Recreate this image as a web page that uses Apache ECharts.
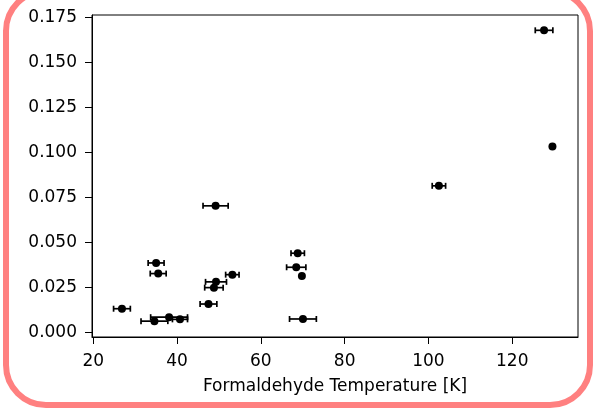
<!DOCTYPE html>
<html>
<head>
<meta charset="utf-8">
<script src="https://cdn.jsdelivr.net/npm/echarts@6/dist/echarts.min.js"></script>
<style>
  html, body { margin: 0; padding: 0; background: #ffffff; }
  #chart { width: 594px; height: 410px; }
</style>
</head>
<body>
<div id="chart"></div>
<script>
// Formaldehyde temperature (K) with its uncertainty, against the measured quantity
const temperature = [26.85, 34.6, 35.0, 35.5, 38.1, 40.7, 47.5, 48.8, 49.3, 49.2, 53.2, 68.45, 68.8, 69.8, 70.05, 102.5, 127.6, 129.6];
const tempError   = [2.0,   3.2,  1.9,  1.9,  4.4,  1.8,  2.0,  2.2,  2.5,  3.0,  1.6,  2.3,   1.6,  0,    3.2,   1.6,   2.1,   0];
const yValue      = [0.0133, 0.0064, 0.0387, 0.0328, 0.0086, 0.0074, 0.0159, 0.0250, 0.0282, 0.0704, 0.0322, 0.0363, 0.0441, 0.0315, 0.0076, 0.0815, 0.1678, 0.1033];

const xTicks = [20, 40, 60, 80, 100, 120];
const yTicks = [0, 0.025, 0.05, 0.075, 0.1, 0.125, 0.15, 0.175];

const points = temperature.map((t, i) => [t, yValue[i]]);
const bars = temperature.map((t, i) => [t, yValue[i], tempError[i]]);

const font = 'DejaVu Sans';
const ink = '#000000';

const chart = echarts.init(document.getElementById('chart'), null, { renderer: 'canvas' });

chart.setOption({
  animation: false,
  backgroundColor: '#ffffff',
  grid: {
    left: 92, right: 16, top: 15, bottom: 73,
    show: true, borderColor: ink, borderWidth: 1, backgroundColor: 'transparent'
  },
  graphic: [{
    type: 'rect',
    silent: true,
    z: 100,
    shape: { x: 6, y: -9, width: 584, height: 414, r: 40 },
    style: { fill: 'none', stroke: '#ff8080', lineWidth: 6 }
  }],
  xAxis: {
    type: 'value',
    min: 19.7, max: 135.7,
    name: 'Formaldehyde Temperature [K]',
    nameLocation: 'middle',
    nameGap: 41,
    nameTextStyle: { fontFamily: font, fontSize: 17, color: ink },
    axisLine: { show: true, onZero: false, lineStyle: { color: ink, width: 1 } },
    axisTick: { show: true, length: 7, customValues: xTicks, lineStyle: { color: ink, width: 1 } },
    axisLabel: {
      customValues: xTicks, margin: 16,
      fontFamily: font, fontSize: 17, color: ink,
      formatter: v => String(v)
    },
    splitLine: { show: false }
  },
  yAxis: {
    type: 'value',
    min: -0.0024, max: 0.1763,
    axisLine: { show: true, onZero: false, lineStyle: { color: ink, width: 1 } },
    axisTick: { show: true, length: 7, customValues: yTicks, lineStyle: { color: ink, width: 1 } },
    axisLabel: {
      customValues: yTicks, margin: 15,
      fontFamily: font, fontSize: 17, color: ink,
      formatter: v => v.toFixed(3)
    },
    splitLine: { show: false }
  },
  series: [
    {
      type: 'custom',
      data: bars,
      z: 2,
      renderItem: function (params, api) {
        const x = api.value(0), y = api.value(1), e = api.value(2);
        if (!e) return { type: 'group', children: [] };
        const lo = api.coord([x - e, y]);
        const hi = api.coord([x + e, y]);
        const style = { stroke: ink, lineWidth: 1.7 };
        const cap = 3;
        return {
          type: 'group',
          children: [
            { type: 'line', shape: { x1: lo[0], y1: lo[1], x2: hi[0], y2: hi[1] }, style: style },
            { type: 'line', shape: { x1: lo[0], y1: lo[1] - cap, x2: lo[0], y2: lo[1] + cap }, style: style },
            { type: 'line', shape: { x1: hi[0], y1: hi[1] - cap, x2: hi[0], y2: hi[1] + cap }, style: style }
          ]
        };
      }
    },
    {
      type: 'scatter',
      data: points,
      z: 3,
      symbol: 'circle',
      symbolSize: 8,
      itemStyle: { color: ink, opacity: 1 }
    }
  ]
});
</script>
</body>
</html>
